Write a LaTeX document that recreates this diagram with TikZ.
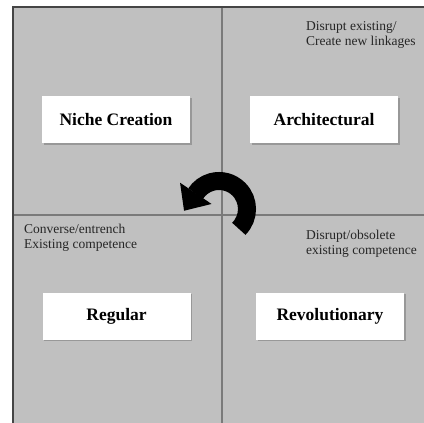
\documentclass[tikz,border=0pt]{standalone}
\usepackage{fontspec}
\setmainfont{Liberation Serif}
\usetikzlibrary{calc,shadows}
\definecolor{panel}{HTML}{C0C0C0}
\definecolor{divider}{HTML}{7A7A7A}
\definecolor{frame}{HTML}{454545}
\definecolor{shade}{HTML}{989898}
\tikzset{
  quadbox/.style={draw=none, fill=white, minimum width=148pt, minimum height=47pt,
    inner sep=0pt, font=\fontsize{17.5}{20}\selectfont\bfseries,
    drop shadow={shadow xshift=1.6pt, shadow yshift=-1.6pt, fill=shade, opacity=1}},
  note/.style={anchor=west, align=left, inner sep=0pt,
    font=\fontsize{13.5}{15}\selectfont, text=black!85}
}
\begin{document}
\begin{tikzpicture}[x=1pt,y=1pt]
\useasboundingbox (0,0) rectangle (424,-423);
\fill[white] (0,0) rectangle (424,-423);
\fill[panel] (13,-7) rectangle (424,-423);
\draw[divider, line width=1.1pt] (222,-7) -- (222,-423);
\draw[divider, line width=1.1pt] (13,-215) -- (424,-215);
\draw[frame, line width=1.6pt] (13,-423) -- (13,-7) -- (424,-7);

\node[quadbox] (niche) at (116,-119.5) {Niche Creation};
\node[quadbox] (arch) at (324,-119.5) {Architectural};
\node[quadbox] (reg) at (116.5,-316) {Regular};
\node[quadbox] (rev) at (330,-316) {Revolutionary};

\node[note] (n1) at (306,-34.5) {Disrupt existing/\\Create new linkages};
\node[note] (n2) at (24,-237.5) {Converse/entrench\\Existing competence};
\node[note] (n3) at (306,-243.5) {Disrupt/obsolete\\existing competence};

\coordinate (c) at (219,-209);
\draw[black, line width=18pt] ($(c)+(-45:28)$) arc[start angle=-45, end angle=147, radius=28];
\fill[black] ($(c)+(146:9)$) -- ($(c)+(146:47)$) -- ($(c)+(146:28)+(236:21)$) -- cycle;
\end{tikzpicture}
\end{document}
